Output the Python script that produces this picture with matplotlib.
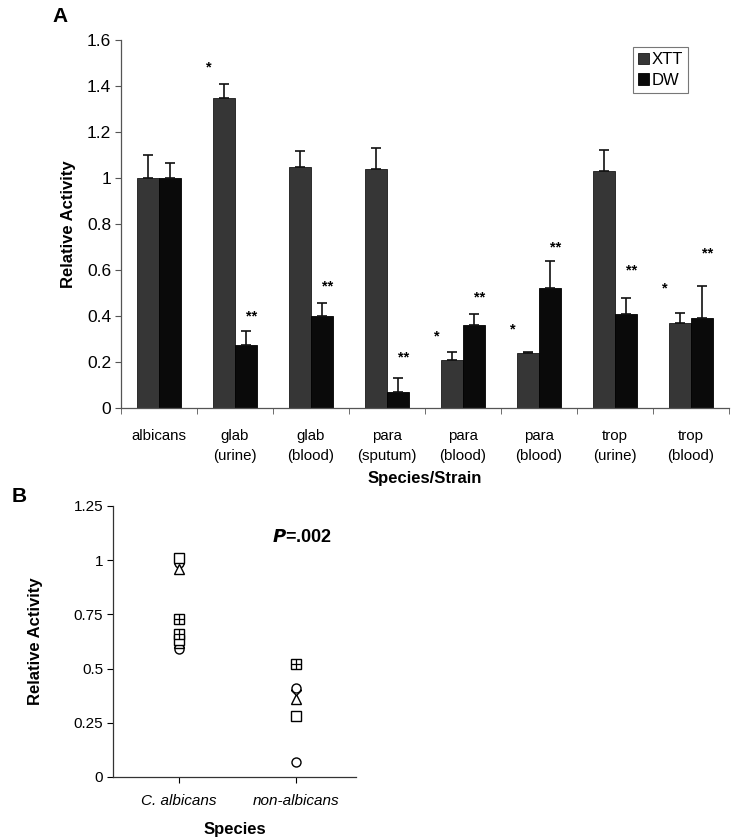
import matplotlib
matplotlib.use("Agg")
import matplotlib.pyplot as plt
import numpy as np

plt.rcParams['font.family'] = ['Liberation Sans', 'DejaVu Sans']

# ---------------- Panel A data ----------------
categories = ["albicans", "glab\n(urine)", "glab\n(blood)", "para\n(sputum)",
              "para\n(blood)", "para\n(blood)", "trop\n(urine)", "trop\n(blood)"]
xtt = [1.00, 1.35, 1.05, 1.04, 0.21, 0.24, 1.03, 0.37]
xtt_err = [0.10, 0.06, 0.067, 0.09, 0.034, 0.005, 0.09, 0.045]
dw = [1.00, 0.275, 0.40, 0.07, 0.36, 0.52, 0.41, 0.39]
dw_err = [0.067, 0.06, 0.058, 0.06, 0.047, 0.12, 0.07, 0.14]
# significance markers: (category index, label height)
xtt_star_idx = [1, 4, 5, 7]
xtt_star_y = [1.48, 0.31, 0.34, 0.52]
dw_star_idx = [1, 2, 3, 4, 5, 6, 7]
dw_star_y = [0.40, 0.53, 0.22, 0.48, 0.70, 0.60, 0.67]
yticks_a = [0, 0.2, 0.4, 0.6, 0.8, 1, 1.2, 1.4, 1.6]
yticklabels_a = ["0", "0.2", "0.4", "0.6", "0.8", "1", "1.2", "1.4", "1.6"]

# ---------------- Panel B data ----------------
groups = ["C. albicans", "non-albicans"]
alb_square = [1.01, 0.63]
alb_circle = [0.985, 0.59]
alb_triangle = [0.96, 0.62]
alb_diamond = [0.985, 0.60]
alb_sqplus = [0.73, 0.66]
non_square = [0.28]
non_circle = [0.41, 0.07]
non_triangle = [0.36]
non_diamond = [0.40]
non_sqplus = [0.52]
yticks_b = [0, 0.25, 0.5, 0.75, 1, 1.25]
yticklabels_b = ["0", "0.25", "0.5", "0.75", "1", "1.25"]

W, H = 737, 840
fig = plt.figure(figsize=(W / 100, H / 100), dpi=100)

def px_axes(l, r, t, b):
    return fig.add_axes([l / W, 1 - b / H, (r - l) / W, (b - t) / H])

# ================= Panel A =================
axA = px_axes(121, 729, 40, 408)
x = np.arange(len(categories))
bw = 0.29
off = 0.145
axA.bar(x - off, xtt, bw, color='#363636', edgecolor='#1a1a1a', lw=0.6, label='XTT', zorder=2)
axA.bar(x + off, dw, bw, color='#0a0a0a', edgecolor='#000000', lw=0.6, label='DW', zorder=2)
axA.errorbar(x - off, xtt, yerr=[np.zeros(len(xtt)), xtt_err], fmt='none',
             ecolor='#111111', elinewidth=1.2, capsize=3.5, capthick=1.2, zorder=3)
axA.errorbar(x + off, dw, yerr=[np.zeros(len(dw)), dw_err], fmt='none',
             ecolor='#111111', elinewidth=1.2, capsize=3.5, capthick=1.2, zorder=3)
for i, yv in zip(xtt_star_idx, xtt_star_y):
    axA.text(i - 0.34, yv, "*", ha='center', va='center', fontsize=10.5, fontweight='bold')
for i, yv in zip(dw_star_idx, dw_star_y):
    axA.text(i + 0.22, yv, "**", ha='center', va='center', fontsize=10.5, fontweight='bold')

axA.set_xlim(-0.5, len(categories) - 0.5)
axA.set_ylim(0, 1.6)
axA.set_yticks(yticks_a)
axA.set_yticklabels(yticklabels_a, fontsize=12.5)
axA.set_xticks(x)
axA.set_xticklabels(categories, fontsize=10.8, linespacing=1.55)
axA.set_xticks(np.arange(-0.5, len(categories), 1), minor=True)
axA.tick_params(axis='x', which='major', length=0, pad=15)
axA.tick_params(axis='x', which='minor', length=4, direction='out', color='#555555')
axA.tick_params(axis='y', length=4, direction='out', color='#555555', pad=3)
for s in ['top', 'right']:
    axA.spines[s].set_visible(False)
for s in ['left', 'bottom']:
    axA.spines[s].set_color('#555555')
    axA.spines[s].set_linewidth(0.9)
axA.set_ylabel("Relative Activity", fontsize=12, fontweight='bold', labelpad=8)
axA.set_xlabel("Species/Strain", fontsize=12, fontweight='bold', labelpad=6)
leg = axA.legend(loc='upper left', bbox_to_anchor=(0.842, 0.981), borderaxespad=0,
                 fontsize=12, handlelength=0.65, handleheight=0.65, handletextpad=0.2,
                 labelspacing=0.35, borderpad=0.3, fancybox=False, framealpha=1)
leg.get_frame().set_edgecolor('#777777')
leg.get_frame().set_linewidth(0.8)
fig.text(52 / W, 1 - 17 / H, "A", fontsize=15, fontweight='bold', ha='left', va='center')

# ================= Panel B =================
axB = px_axes(113, 356, 506, 777)
ms = 6.5
def pts(gi, vals, marker, size=ms):
    axB.plot([gi + 1] * len(vals), vals, linestyle='none', marker=marker, ms=size,
             mfc='white', mec='black', mew=1.0, zorder=3)
def sqplus(gi, vals):
    pts(gi, vals, 's')
    axB.plot([gi + 1] * len(vals), vals, linestyle='none', marker='+', ms=ms,
             mec='black', mew=0.9, zorder=4)

pts(0, alb_diamond, 'D', 5.5)
pts(0, alb_circle, 'o')
pts(0, alb_triangle, '^')
pts(0, alb_square, 's')
sqplus(0, alb_sqplus)
pts(1, non_square, 's')
pts(1, non_triangle, '^')
pts(1, non_diamond, 'D', 5.5)
pts(1, non_circle, 'o')
sqplus(1, non_sqplus)

axB.set_xlim(0.44, 2.51)
axB.set_ylim(0, 1.25)
axB.set_yticks(yticks_b)
axB.set_yticklabels(yticklabels_b, fontsize=11)
axB.set_xticks([1, 2])
axB.set_xticklabels(groups, fontsize=11, style='italic')
axB.tick_params(axis='x', length=4, direction='out', pad=8)
axB.tick_params(axis='y', length=4, direction='out', pad=3)
for s in ['top', 'right']:
    axB.spines[s].set_visible(False)
for s in ['left', 'bottom']:
    axB.spines[s].set_color('#333333')
    axB.spines[s].set_linewidth(0.9)
axB.set_ylabel("Relative Activity", fontsize=12, fontweight='bold', labelpad=22)
axB.set_xlabel("Species", fontsize=12, fontweight='bold', labelpad=10)
axB.text(2.05, 1.105, r"$\mathbfit{P}$=.002", fontsize=13, fontweight='bold', ha='center', va='center')
fig.text(12 / W, 1 - 497 / H, "B", fontsize=15, fontweight='bold', ha='left', va='center')

fig.savefig("out.png", dpi=100)
